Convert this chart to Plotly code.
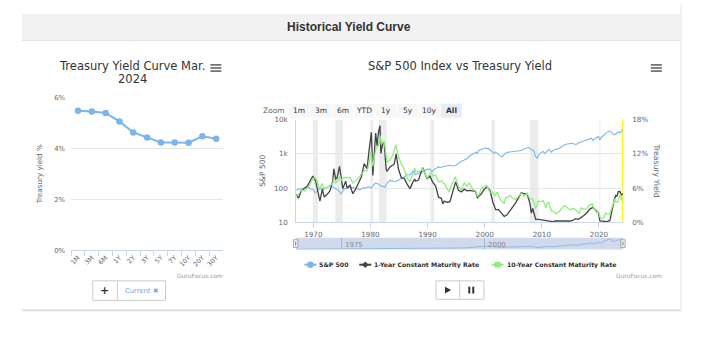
import plotly.graph_objects as go

W, H = 706, 344
def X(px): return px / W
def Y(py): return 1 - py / H

# ---------------- data ----------------
maturities = ["1M", "3M", "6M", "1Y", "2Y", "3Y", "5Y", "7Y", "10Y", "20Y", "30Y"]
curve_yields = [5.47, 5.44, 5.38, 5.05, 4.62, 4.42, 4.23, 4.23, 4.22, 4.47, 4.37]
curve_ticks = [0, 2, 4, 6]

sp_dates = ["1967-01","1967-07","1968-01","1968-03","1968-11","1969-06","1970-01","1970-05","1970-12","1971-04",
            "1971-11","1972-06","1973-01","1973-08","1973-12","1974-06","1974-10","1974-12","1975-06","1976-01",
            "1976-09","1977-06","1978-03","1978-09","1979-03","1979-09","1980-03","1980-11","1981-06","1981-09",
            "1982-08","1982-12","1983-06","1984-06","1984-12","1985-06","1985-12","1986-06","1986-12","1987-08",
            "1987-11","1988-06","1989-06","1989-12","1990-06","1990-10","1991-06","1991-12","1992-06","1992-12",
            "1993-06","1993-12","1994-06","1994-12","1995-06","1995-12","1996-06","1996-12","1997-06","1997-12",
            "1998-07","1998-09","1998-12","1999-06","1999-12","2000-03","2000-09","2000-12","2001-03","2001-09",
            "2001-12","2002-06","2002-10","2003-03","2003-06","2003-12","2004-06","2004-12","2005-06","2005-12",
            "2006-06","2006-12","2007-06","2007-10","2008-03","2008-06","2008-09","2008-11","2009-03","2009-06",
            "2009-12","2010-04","2010-07","2010-12","2011-04","2011-09","2011-12","2012-06","2012-12","2013-06",
            "2013-12","2014-06","2014-12","2015-06","2015-09","2016-02","2016-06","2016-12","2017-06","2017-12",
            "2018-09","2018-12","2019-06","2019-12","2020-03","2020-06","2020-12","2021-06","2021-12","2022-06",
            "2022-09","2022-12","2023-06","2023-10","2023-12","2024-03"]
sp_values = [86, 94, 95, 89, 108, 98, 90, 72, 92, 104,
             92, 107, 118, 104, 97, 86, 70, 68, 95, 100,
             105, 100, 89, 102, 101, 109, 102, 140, 131, 118,
             107, 140, 168, 153, 167, 191, 211, 250, 242, 329,
             245, 273, 317, 353, 358, 305, 371, 417, 408, 435,
             450, 466, 444, 459, 544, 615, 670, 740, 885, 970,
             1120, 1017, 1229, 1372, 1469, 1498, 1436, 1320, 1160, 1040,
             1148, 989, 854, 848, 974, 1112, 1140, 1211, 1191, 1248,
             1270, 1418, 1503, 1549, 1322, 1280, 1166, 896, 735, 919,
             1115, 1186, 1030, 1257, 1363, 1131, 1257, 1362, 1426, 1606,
             1848, 1960, 2059, 2063, 1920, 1932, 2099, 2239, 2423, 2674,
             2914, 2507, 2942, 3231, 2585, 3100, 3756, 4297, 4766, 3785,
             3586, 3840, 4450, 4194, 4770, 5254]

y1_dates = ["1967-01","1967-06","1967-12","1968-06","1968-12","1969-06","1969-12","1970-06","1970-12","1971-03",
            "1971-08","1971-12","1972-06","1972-12","1973-06","1973-08","1973-12","1974-03","1974-08","1974-12",
            "1975-03","1975-09","1975-12","1976-06","1976-12","1977-06","1977-12","1978-06","1978-12","1979-06",
            "1979-10","1980-03","1980-06","1980-12","1981-03","1981-06","1981-09","1981-11","1982-03","1982-06",
            "1982-10","1982-12","1983-06","1983-12","1984-03","1984-07","1984-12","1985-06","1985-12","1986-06",
            "1986-12","1987-06","1987-10","1987-12","1988-06","1988-12","1989-03","1989-09","1989-12","1990-06",
            "1990-12","1991-06","1991-12","1992-06","1992-09","1992-12","1993-06","1993-12","1994-06","1994-12",
            "1995-06","1995-12","1996-06","1996-12","1997-06","1997-12","1998-06","1998-10","1998-12","1999-06",
            "1999-12","2000-06","2000-12","2001-06","2001-12","2002-06","2002-12","2003-06","2003-12","2004-06",
            "2004-12","2005-06","2005-12","2006-06","2006-12","2007-06","2007-12","2008-03","2008-06","2008-12",
            "2009-06","2009-12","2010-06","2010-12","2011-06","2011-12","2012-06","2012-12","2013-06","2013-12",
            "2014-06","2014-12","2015-06","2015-12","2016-06","2016-12","2017-06","2017-12","2018-06","2018-12",
            "2019-06","2019-12","2020-03","2020-06","2020-12","2021-06","2021-12","2022-03","2022-06","2022-09",
            "2022-12","2023-03","2023-06","2023-09","2023-12","2024-03"]
y1_values = [4.9, 4.2, 5.6, 5.9, 6.3, 7.2, 8.1, 7.2, 5.0, 3.7,
             5.8, 4.4, 4.9, 5.5, 7.2, 9.4, 7.6, 7.8, 9.8, 7.3,
             5.9, 7.2, 6.0, 6.5, 5.0, 5.8, 6.9, 8.0, 10.3, 9.4,
             12.5, 15.8, 8.2, 15.7, 13.4, 15.9, 17.0, 12.1, 14.0, 14.0,
             9.3, 9.0, 9.7, 10.1, 10.2, 12.0, 9.3, 7.8, 7.7, 6.7,
             5.9, 7.0, 7.6, 7.2, 7.4, 8.9, 9.6, 8.2, 7.7, 8.1,
             7.0, 6.4, 4.4, 4.2, 3.2, 3.7, 3.5, 3.6, 5.5, 7.1,
             5.6, 5.3, 5.8, 5.5, 5.6, 5.5, 5.4, 4.2, 4.5, 5.0,
             5.8, 6.2, 5.6, 3.6, 2.2, 2.2, 1.5, 1.0, 1.3, 2.1,
             2.7, 3.4, 4.4, 5.2, 5.0, 5.0, 3.3, 1.6, 2.4, 0.5,
             0.5, 0.4, 0.3, 0.3, 0.2, 0.1, 0.2, 0.2, 0.1, 0.1,
             0.1, 0.2, 0.3, 0.6, 0.5, 0.8, 1.2, 1.7, 2.3, 2.6,
             2.0, 1.6, 0.2, 0.2, 0.1, 0.1, 0.3, 1.6, 2.8, 3.9,
             4.7, 4.6, 5.4, 5.4, 4.8, 5.0]

y10_dates = ["1967-01","1967-06","1967-12","1968-06","1968-12","1969-06","1969-12","1970-06","1970-12","1971-03",
             "1971-07","1971-12","1972-06","1972-12","1973-06","1973-08","1973-12","1974-06","1974-09","1974-12",
             "1975-06","1975-12","1976-06","1976-12","1977-06","1977-12","1978-06","1978-12","1979-06","1979-10",
             "1980-02","1980-06","1980-12","1981-06","1981-09","1981-12","1982-06","1982-10","1982-12","1983-06",
             "1983-12","1984-06","1984-12","1985-06","1985-12","1986-06","1986-12","1987-06","1987-10","1987-12",
             "1988-06","1988-12","1989-03","1989-09","1989-12","1990-06","1990-09","1990-12","1991-06","1991-12",
             "1992-06","1992-12","1993-06","1993-10","1993-12","1994-06","1994-11","1995-06","1995-12","1996-06",
             "1996-12","1997-04","1997-12","1998-06","1998-10","1998-12","1999-06","1999-12","2000-05","2000-12",
             "2001-06","2001-11","2002-03","2002-10","2003-06","2003-09","2003-12","2004-06","2004-12","2005-06",
             "2005-12","2006-06","2006-12","2007-06","2007-12","2008-06","2008-12","2009-06","2009-12","2010-04",
             "2010-10","2010-12","2011-03","2011-09","2011-12","2012-07","2012-12","2013-06","2013-12","2014-06",
             "2014-12","2015-06","2015-12","2016-07","2016-12","2017-06","2017-12","2018-05","2018-11","2018-12",
             "2019-06","2019-09","2019-12","2020-03","2020-08","2020-12","2021-03","2021-08","2021-12","2022-03",
             "2022-06","2022-10","2022-12","2023-04","2023-10","2023-12","2024-03"]
y10_values = [4.6, 4.9, 5.7, 5.5, 6.0, 6.6, 7.7, 7.8, 6.4, 5.7,
              6.8, 5.9, 6.1, 6.4, 6.8, 7.6, 6.9, 7.5, 8.0, 7.4,
              7.9, 7.8, 7.9, 6.9, 7.3, 7.7, 8.5, 9.0, 9.1, 10.3,
              12.4, 9.8, 12.8, 13.5, 15.3, 13.7, 14.3, 10.9, 10.5, 10.9,
              11.8, 13.6, 11.5, 10.2, 9.3, 7.8, 7.1, 8.4, 9.5, 8.9,
              8.9, 9.1, 9.4, 8.2, 7.8, 8.5, 8.9, 8.1, 8.3, 7.1,
              7.3, 6.8, 6.0, 5.3, 5.8, 7.1, 8.0, 6.2, 5.7, 6.9,
              6.3, 6.9, 5.8, 5.5, 4.5, 4.7, 5.9, 6.3, 6.5, 5.2,
              5.3, 4.6, 5.3, 3.9, 3.3, 4.3, 4.3, 4.7, 4.2, 4.0,
              4.5, 5.1, 4.6, 5.1, 4.1, 4.1, 2.4, 3.7, 3.6, 3.8,
              2.5, 3.3, 3.5, 2.0, 2.0, 1.5, 1.7, 2.3, 2.9, 2.6,
              2.2, 2.4, 2.2, 1.5, 2.5, 2.2, 2.4, 3.0, 3.2, 2.8,
              2.1, 1.6, 1.9, 0.9, 0.6, 0.9, 1.6, 1.3, 1.5, 2.1,
              3.0, 4.1, 3.6, 3.5, 4.9, 3.9, 4.2]
yield_ticks = [0, 6, 12, 18]

recessions = [("1969-12", "1970-11"), ("1973-11", "1975-03"), ("1980-01", "1980-07"),
              ("1981-07", "1982-11"), ("1990-07", "1991-03"), ("2001-03", "2001-11"),
              ("2007-12", "2009-06"), ("2020-02", "2020-04")]
current_band = ("2024-01", "2024-04")

year_ticks = ["1970", "1980", "1990", "2000", "2010", "2020"]
nav_ticks = ["1975", "2000"]
zoom_buttons = ["1m", "3m", "6m", "YTD", "1y", "5y", "10y", "All"]

legend_names = ["S&P 500", "1-Year Constant Maturity Rate", "10-Year Constant Maturity Rate"]

# ---------------- style ----------------
FONT = "DejaVu Sans"
BLUE, BLACK, GREEN = "#7cb5ec", "#434348", "#90ed7d"
AXC = "#ccd6eb"
GRID = "#e6e6e6"
LAB = "#666666"

fig = go.Figure()

# left chart
fig.add_trace(go.Scatter(x=maturities, y=curve_yields, mode="lines+markers",
                         line=dict(color=BLUE, width=2), marker=dict(size=6.5, color=BLUE),
                         xaxis="x", yaxis="y", showlegend=False, cliponaxis=False))
# right chart
fig.add_trace(go.Scatter(x=sp_dates, y=sp_values, mode="lines", line=dict(color=BLUE, width=1.1),
                         xaxis="x2", yaxis="y2", name=legend_names[0], showlegend=False))
fig.add_trace(go.Scatter(x=y1_dates, y=y1_values, mode="lines", line=dict(color=BLACK, width=1.3),
                         xaxis="x2", yaxis="y3", name=legend_names[1], showlegend=False))
fig.add_trace(go.Scatter(x=y10_dates, y=y10_values, mode="lines", line=dict(color=GREEN, width=1.3),
                         xaxis="x2", yaxis="y3", name=legend_names[2], showlegend=False))
# navigator
fig.add_trace(go.Scatter(x=sp_dates, y=sp_values, mode="lines", line=dict(color=BLUE, width=0.8),
                         xaxis="x3", yaxis="y4", showlegend=False))

xr = ["1967-01-01", "2024-04-01"]
fig.update_layout(
    width=W, height=H, autosize=False, margin=dict(l=0, r=0, t=0, b=0),
    paper_bgcolor="white", plot_bgcolor="white", showlegend=False,
    font=dict(family=FONT, color="#333333"),
    xaxis=dict(domain=[X(69.3), X(221.7)], anchor="y", type="category", range=[-0.5, 10.5],
               tickson="boundaries", ticks="outside", ticklen=5, tickcolor=AXC, showline=True,
               linecolor=AXC, tickangle=-45, tickfont=dict(size=6.5, color=LAB), showgrid=False,
               zeroline=False),
    yaxis=dict(domain=[Y(253), Y(95.7)], anchor="x", range=[0, 6], tickmode="array",
               tickvals=curve_ticks, ticktext=[f"{v}%" for v in curve_ticks],
               gridcolor=GRID, showline=False, zeroline=False,
               tickfont=dict(size=6.8, color=LAB), ticklabelstandoff=5),
    xaxis2=dict(domain=[X(295), X(623)], anchor="y2", type="date", range=xr,
                tickvals=[y + "-01-01" for y in year_ticks], ticktext=year_ticks,
                ticks="outside", ticklen=5, tickcolor=AXC, showline=True, linecolor=AXC,
                showgrid=False, zeroline=False, tickfont=dict(size=7.2, color=LAB)),
    yaxis2=dict(domain=[Y(224), Y(119)], anchor="x2", type="log", range=[1, 4],
                tickvals=[10, 100, 1000, 10000], ticktext=["10", "100", "1k", "10k"],
                gridcolor=GRID, showline=True, linecolor=AXC, zeroline=False,
                tickfont=dict(size=7.2, color=LAB), ticklabelstandoff=6),
    yaxis3=dict(overlaying="y2", side="right", anchor="x2", range=[0, 18], tickmode="array",
                tickvals=yield_ticks, ticktext=[f"{v}%" for v in yield_ticks],
                showgrid=False, zeroline=False,
                showline=False, tickfont=dict(size=7.2, color=LAB), ticklabelstandoff=8),
    xaxis3=dict(domain=[X(295), X(623)], anchor="y4", type="date", range=xr,
                tickvals=[y + "-01-01" for y in nav_ticks], showticklabels=False,
                showgrid=True, gridcolor="rgba(70,90,140,0.28)", zeroline=False, showline=False),
    yaxis4=dict(domain=[Y(252), Y(240)], anchor="x3", range=[0, 5350], visible=False),
)

shapes = []
ann = []

def rect(x0, y0, x1, y1, fill=None, line=None, lw=1, layer="below"):
    shapes.append(dict(type="rect", xref="paper", yref="paper", x0=X(x0), x1=X(x1), y0=Y(y1), y1=Y(y0),
                       fillcolor=fill if fill else "rgba(0,0,0,0)",
                       line=dict(color=line if line else "rgba(0,0,0,0)", width=lw if line else 0),
                       layer=layer))

def seg(x0, y0, x1, y1, color, lw=1, layer="above"):
    shapes.append(dict(type="line", xref="paper", yref="paper", x0=X(x0), x1=X(x1), y0=Y(y0), y1=Y(y1),
                       line=dict(color=color, width=lw), layer=layer))

def poly(pts, fill, layer="above"):
    p = "M " + " L ".join(f"{X(a):.5f},{Y(b):.5f}" for a, b in pts) + " Z"
    shapes.append(dict(type="path", xref="paper", yref="paper", path=p, fillcolor=fill,
                       line=dict(width=0), layer=layer))

def text(x, y, s, size, color="#333333", xa="center", family=FONT, bold=False, angle=0):
    if bold:
        s = "<b>" + s + "</b>"
    ann.append(dict(xref="paper", yref="paper", x=X(x), y=Y(y), text=s, showarrow=False,
                    xanchor=xa, yanchor="middle", textangle=angle,
                    font=dict(size=size, color=color, family=family), borderpad=0))

# card & header
rect(20, 10, 680.5, 37, fill="#f2f2f2")
seg(20, 37.5, 680.5, 37.5, "#e2e2e2", 1, "below")
seg(681, 0, 681, 314, "#e4e4e4", 1, "below")
seg(20, 314.5, 681, 314.5, "#e0e0e0", 2, "below")
text(348, 23.5, "Historical Yield Curve", 12, "#333333", family="Liberation Sans", bold=True)

# titles
text(130.5, 64, "Treasury Yield Curve Mar.", 11.5)
text(130.5, 77.5, "2024", 11.5)
text(459, 63.5, "S&P 500 Index vs Treasury Yield", 11.5)

# menu icons
for cx in (214.5, 656.2):
    for yy in (62.5, 65.7, 68.9):
        seg(cx - 5.5, yy, cx + 5.5, yy, "#666666", 1.6)

# axis titles
text(38, 175, "Treasury yield %", 7.2, LAB, angle=-90)
text(261, 171, "S&P 500", 7.6, LAB, angle=-90)
text(656.5, 170.5, "Treasury Yield", 7.7, LAB, angle=90)

# recession bands and current band
for a, b in recessions:
    shapes.append(dict(type="rect", xref="x2", yref="y2 domain", x0=a + "-01", x1=b + "-01", y0=0, y1=1,
                       fillcolor="#ececec", line=dict(width=0), layer="below"))
shapes.append(dict(type="rect", xref="x2", yref="y2 domain", x0=current_band[0] + "-01",
                   x1=current_band[1] + "-01", y0=0, y1=1, fillcolor="#ffff00",
                   line=dict(width=0), layer="below"))

# range selector
text(273, 109.5, "Zoom", 7.5, LAB)
for i, lab in enumerate(zoom_buttons):
    x0 = 287.5 + i * 21.8
    active = lab == "All"
    rect(x0, 102.3, x0 + 21, 116.7, fill="#e6ebf5" if active else "#f7f7f7")
    text(x0 + 10.5, 109.5, lab, 7.5, "#333333", bold=active)

# navigator
rect(295, 240, 623, 252, fill="rgba(102,133,194,0.3)")
for hx in (294.5, 622.7):
    rect(hx - 2.2, 242, hx + 2.2, 250, fill="#f2f2f2", line="#999999", lw=0.8, layer="above")
    seg(hx, 244, hx, 248, "#333333", 0.6)
text(343, 247.5, nav_ticks[0], 7, "#888888", xa="left")
text(486.5, 247.5, nav_ticks[1], 7, "#888888", xa="left")

# legend
ly = 267.7
seg(303.3, ly, 315.3, ly, BLUE, 2)
shapes.append(dict(type="circle", xref="paper", yref="paper", x0=X(306.0), x1=X(312.6), y0=Y(271.0),
                   y1=Y(264.4), fillcolor=BLUE, line=dict(width=0), layer="above"))
text(317.2, ly, legend_names[0], 6.2, "#333333", xa="left", bold=True)
seg(358.3, ly, 370.3, ly, BLACK, 2)
poly([(364.3, ly - 3.3), (367.6, ly), (364.3, ly + 3.3), (361.0, ly)], BLACK)
text(372.2, ly, legend_names[1], 6.2, "#333333", xa="left", bold=True)
seg(491, ly, 503, ly, GREEN, 2)
rect(494, ly - 3, 500, ly + 3, fill=GREEN, layer="above")
text(505.5, ly, legend_names[2], 6.2, "#333333", xa="left", bold=True)

# credits
text(222.3, 279, "GuruFocus.com", 5.9, "#999999", xa="right")
text(663, 279, "GuruFocus.com", 5.9, "#999999", xa="right")

# left button group
rect(91, 284.3, 164, 304.3, fill="white", line="#cccccc", lw=1, layer="above")
seg(115.7, 284.3, 115.7, 304.3, "#cccccc", 1)
text(103, 294, "+", 11, "#333333", bold=True)
text(122.5, 294.3, "Current ✖", 6.8, "#6aa8e8", xa="left")

# play / pause group
rect(435.3, 284.3, 483.3, 303.3, fill="white", line="#cccccc", lw=1, layer="above")
seg(459, 284.3, 459, 303.3, "#cccccc", 1)
poly([(444.2, 290.3), (450.4, 293.8), (444.2, 297.3)], "#333333")
rect(467.6, 290.3, 469.6, 297.3, fill="#333333", layer="above")
rect(471.6, 290.3, 473.6, 297.3, fill="#333333", layer="above")

fig.update_layout(shapes=shapes, annotations=ann)
fig.write_html("out.html")
